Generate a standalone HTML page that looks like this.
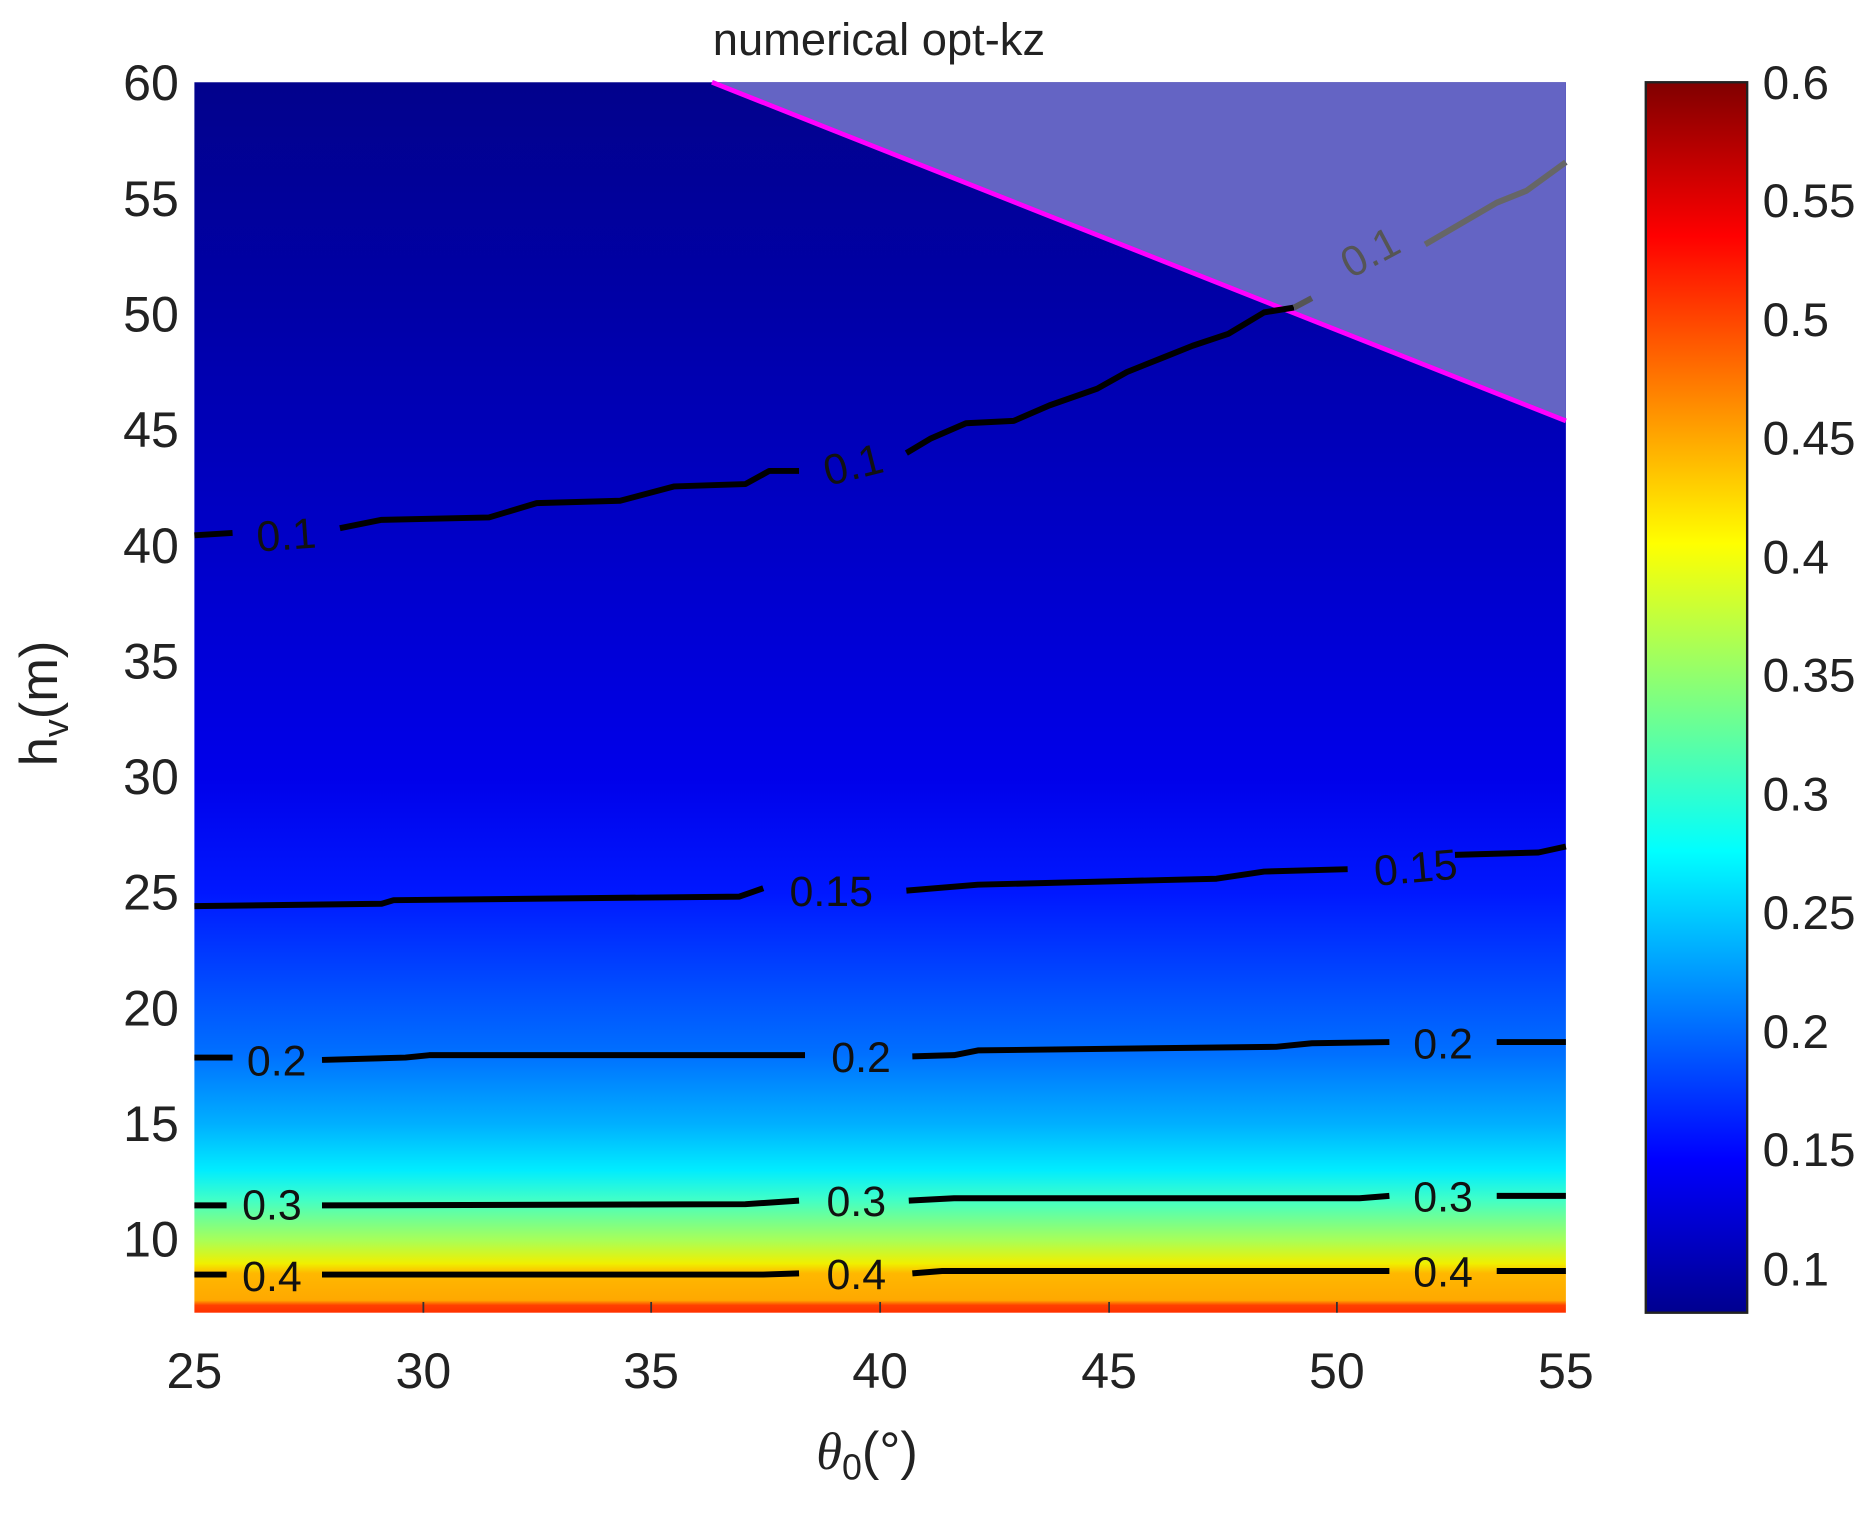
<!DOCTYPE html>
<html><head><meta charset="utf-8"><style>html,body{margin:0;padding:0;background:#fff}svg{display:block}</style></head>
<body>
<svg width="1870" height="1513" viewBox="0 0 1568 1269" preserveAspectRatio="none" xmlns="http://www.w3.org/2000/svg" font-family="Liberation Sans, sans-serif">
<defs>
<linearGradient id="f" x1="0" y1="69" x2="0" y2="1101" gradientUnits="userSpaceOnUse">
<stop offset="0" stop-color="#02028c"/>
<stop offset="0.188" stop-color="#0000a8"/>
<stop offset="0.376" stop-color="#0000c8"/>
<stop offset="0.565" stop-color="#0000ea"/>
<stop offset="0.659" stop-color="#0018ff"/>
<stop offset="0.753" stop-color="#0058ff"/>
<stop offset="0.790" stop-color="#0070ff"/>
<stop offset="0.847" stop-color="#00b0ff"/>
<stop offset="0.884" stop-color="#00ecff"/>
<stop offset="0.908" stop-color="#40ffc8"/>
<stop offset="0.941" stop-color="#a8ff58"/>
<stop offset="0.960" stop-color="#f0f000"/>
<stop offset="0.968" stop-color="#ffb800"/>
<stop offset="0.990" stop-color="#ffa800"/>
<stop offset="0.994" stop-color="#ff4000"/>
<stop offset="1" stop-color="#ff3000"/>
</linearGradient>
<linearGradient id="cb" x1="0" y1="1101" x2="0" y2="69" gradientUnits="userSpaceOnUse">
<stop offset="0" stop-color="#00008f"/>
<stop offset="0.125" stop-color="#0000ff"/>
<stop offset="0.375" stop-color="#00ffff"/>
<stop offset="0.625" stop-color="#ffff00"/>
<stop offset="0.875" stop-color="#ff0000"/>
<stop offset="1" stop-color="#800000"/>
</linearGradient>
</defs>
<text x="737" y="46" font-size="38" text-anchor="middle" fill="#222">numerical opt-kz</text>
<rect x="163" y="69" width="1150" height="1032" fill="url(#f)"/>
<polygon points="597,69 1313,69 1313,353" fill="#6464c4"/>
<line x1="597" y1="69" x2="1313" y2="353" stroke="#ff00ff" stroke-width="4"/>
<g fill="none" stroke="#000" stroke-width="5" stroke-linejoin="round">
<polyline points="163,449 195,447"/>
<polyline points="285,443 320,436 410,434 450,422 520,420 565,408 625,406 645,395 670,395"/>
<polyline points="760,380 780,368 810,355 850,353 880,340 920,326 945,312 975,300 1000,290 1030,280 1060,262 1085,258"/>
<polyline points="1085,258 1100,250" stroke="#555"/>
<polyline points="1195,205 1255,170 1280,160 1313,136" stroke="#666"/>
<polyline points="163,760 320,758 330,755 620,752 640,745"/>
<polyline points="760,747 820,742 1020,737 1060,731 1130,729"/>
<polyline points="1220,717 1290,715 1313,710"/>
<polyline points="163,887 195,887"/><polyline points="270,889 340,887 360,885 675,885"/><polyline points="765,886 800,885 820,881 1070,878 1100,875 1165,874"/><polyline points="1255,874 1313,874"/>
<polyline points="163,1011 190,1011"/><polyline points="270,1011 625,1010 670,1007"/><polyline points="762,1007 800,1005 1140,1005 1165,1003"/><polyline points="1255,1003 1313,1003"/>
<polyline points="163,1069 190,1069"/><polyline points="270,1069 640,1069 670,1068"/><polyline points="765,1068 790,1066 1165,1066"/><polyline points="1255,1066 1313,1066"/>
</g>
<g font-size="36" fill="#111" text-anchor="middle">
<text x="240" y="461" transform="rotate(-4 240 448)">0.1</text>
<text x="715" y="402" transform="rotate(-14 715 388)">0.1</text>
<text x="1148" y="224" fill="#555" transform="rotate(-28 1148 210)">0.1</text>
<text x="697" y="760">0.15</text>
<text x="1187" y="740" transform="rotate(-5 1187 727)">0.15</text>
<text x="232" y="902">0.2</text><text x="722" y="899">0.2</text><text x="1210" y="888">0.2</text>
<text x="228" y="1023">0.3</text><text x="718" y="1020">0.3</text><text x="1210" y="1016">0.3</text>
<text x="228" y="1083">0.4</text><text x="718" y="1081">0.4</text><text x="1210" y="1079">0.4</text>
</g>
<g stroke="#333" stroke-width="1.5">
<line x1="355" y1="1101" x2="355" y2="1092"/><line x1="546" y1="1101" x2="546" y2="1092"/><line x1="738" y1="1101" x2="738" y2="1092"/><line x1="930" y1="1101" x2="930" y2="1092"/><line x1="1121" y1="1101" x2="1121" y2="1092"/>
</g>
<g font-size="42" fill="#222" text-anchor="middle">
<text x="163" y="1164">25</text><text x="355" y="1164">30</text><text x="546" y="1164">35</text><text x="738" y="1164">40</text><text x="930" y="1164">45</text><text x="1121" y="1164">50</text><text x="1313" y="1164">55</text>
</g>
<g font-size="42" fill="#222" text-anchor="end">
<text x="150" y="84">60</text><text x="150" y="181">55</text><text x="150" y="278">50</text><text x="150" y="375">45</text><text x="150" y="472">40</text><text x="150" y="569">35</text><text x="150" y="666">30</text><text x="150" y="763">25</text><text x="150" y="860">20</text><text x="150" y="957">15</text><text x="150" y="1054">10</text>
</g>
<text transform="translate(48 590) rotate(-90)" font-size="44" fill="#222" text-anchor="middle">h<tspan font-size="30" dy="9">v</tspan><tspan dy="-9">(m)</tspan></text>
<text x="727" y="1232" font-size="44" fill="#222" text-anchor="middle"><tspan font-family="Liberation Serif, serif" font-style="italic">θ</tspan><tspan font-size="30" dy="9">0</tspan><tspan dy="-9">(°)</tspan></text>
<rect x="1380" y="69" width="85" height="1032" fill="url(#cb)" stroke="#222" stroke-width="2"/>
<g font-size="40" fill="#222">
<text x="1478" y="83">0.6</text><text x="1478" y="182">0.55</text><text x="1478" y="282">0.5</text><text x="1478" y="381">0.45</text><text x="1478" y="481">0.4</text><text x="1478" y="580">0.35</text><text x="1478" y="680">0.3</text><text x="1478" y="779">0.25</text><text x="1478" y="879">0.2</text><text x="1478" y="978">0.15</text><text x="1478" y="1078">0.1</text>
</g>
</svg>
</body></html>
